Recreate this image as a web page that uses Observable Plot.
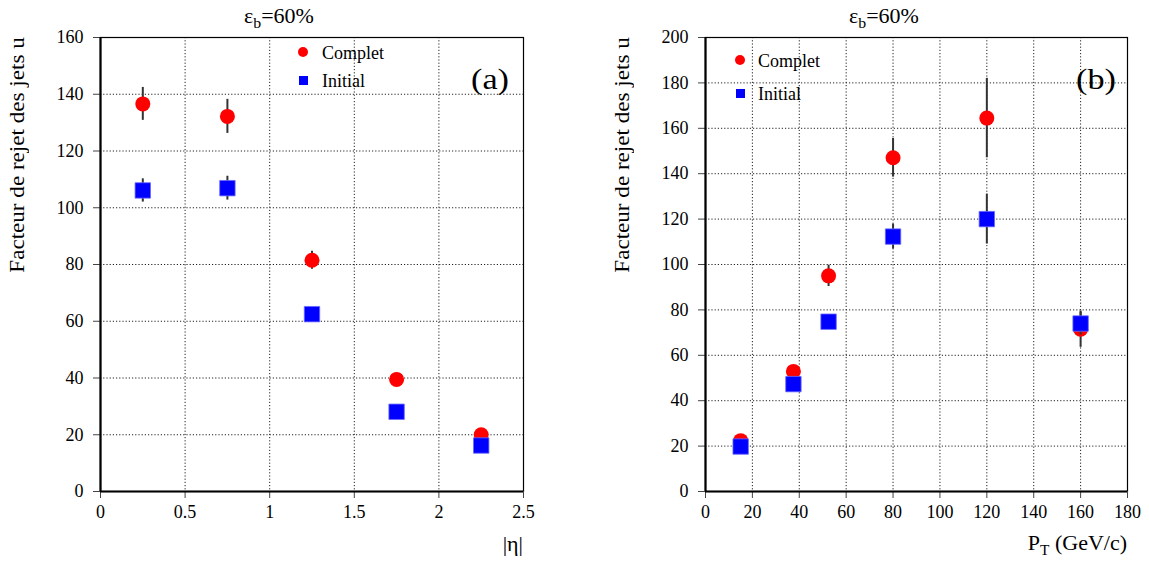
<!DOCTYPE html>
<html>
<head>
<meta charset="utf-8">
<script src="https://cdn.jsdelivr.net/npm/d3@7"></script>
<script src="https://cdn.jsdelivr.net/npm/@observablehq/plot@0.6"></script>
<style>
  html, body { margin: 0; padding: 0; background: #fff; }
  #wrap { position: relative; width: 1149px; height: 562px; overflow: hidden; font-family: "Liberation Serif", serif !important; color: #000; }
  #wrap svg, #wrap svg g { font-family: "Liberation Serif", serif !important; }
  #wrap svg text { font-family: "Liberation Serif", serif !important; font-size: 18px !important; }
  #wrap > svg { position: absolute; top: 0; margin: 0; }
  .ov { position: absolute; white-space: nowrap; line-height: 1; font-family: "Liberation Serif", serif !important; }
  .ylab { writing-mode: vertical-rl; transform: rotate(180deg) scaleY(1.1); font-size: 21px; line-height: 20px; }
  .title { font-size: 20px; transform: translateX(-50%) scaleX(1.1); }
  .title sub { font-size: 0.72em; vertical-align: -0.35em; line-height: 0; }
  .xlab { font-size: 22px; transform: translateX(-100%); }
  .xlab sub { font-size: 0.7em; vertical-align: -0.35em; line-height: 0; }
  .tag { font-size: 29px; transform: scaleX(1.18); transform-origin: 0 0; }
  .leg { font-size: 18px; }
  .mk { position: absolute; }
</style>
</head>
<body>
<div id="wrap"></div>
<script>
// ---- data ----
const etaX = [0.25, 0.75, 1.25, 1.75, 2.25];
const etaComplet = [136.6, 132.2, 81.5, 39.5, 20];
const etaCompletErr = [5.8, 6, 3.2, 1, 1];
const etaInitial = [106.1, 106.9, 62.5, 28.1, 16.2];
const etaInitialErr = [4.1, 4.2, 1, 1, 0.5];

const ptX = [15, 37.5, 52.5, 80, 120, 160];
const ptComplet = [22.4, 52.9, 95, 147, 164.5, 71.5];
const ptCompletErr = [1, 1.5, 4.7, 8.5, 17.5, 8];
const ptInitial = [19.8, 47.3, 74.8, 112.3, 120, 74];
const ptInitialErr = [1, 1.5, 3, 5.5, 11, 5];

const etaTicksX = [0, 0.5, 1, 1.5, 2, 2.5];
const etaTicksY = [0, 20, 40, 60, 80, 100, 120, 140, 160];
const ptTicksX = [0, 20, 40, 60, 80, 100, 120, 140, 160, 180];
const ptTicksY = [0, 20, 40, 60, 80, 100, 120, 140, 160, 180, 200];

const seriesNames = ["Complet", "Initial"];
const RED = "#ff0000", BLUE = "#0000ff";

function rows(xs, ys, es) {
  return xs.map((x, i) => ({x, y: ys[i], lo: ys[i] - es[i], hi: ys[i] + es[i]}));
}

function panel(opts) {
  const comp = rows(opts.x, opts.comp, opts.compErr);
  const init = rows(opts.x, opts.init, opts.initErr);
  const grid = {stroke: "#222", strokeOpacity: 1, strokeDasharray: "1.2,2", strokeWidth: 1};
  const fmt = d => String(d);
  return Plot.plot({
    width: opts.width, height: 562,
    marginLeft: opts.ml, marginRight: opts.mr, marginTop: 37, marginBottom: 71,
    x: {domain: opts.xDomain},
    y: {domain: opts.yDomain},
    style: {fontFamily: "Liberation Serif, serif", fontSize: "18px", color: "#000", background: "transparent"},
    marks: [
      Plot.gridX(opts.ticksX, grid),
      Plot.gridY(opts.ticksY, grid),
      Plot.frame({stroke: "#000", strokeWidth: 1.2}),
      Plot.axisX(opts.ticksX, {tickSize: 7, tickPadding: 7, label: null, stroke: "#444", tickFormat: fmt, fontSize: 18}),
      Plot.axisY(opts.ticksY, {tickSize: 7, tickPadding: 10, label: null, stroke: "#444", tickFormat: fmt, fontSize: 18}),
      Plot.ruleX([opts.xDomain[0]], {stroke: "#000", strokeWidth: 2.2}),
      Plot.ruleY([opts.yDomain[0]], {stroke: "#000", strokeWidth: 2.2}),
      Plot.ruleX(comp, {x: "x", y1: "lo", y2: "hi", stroke: "#333", strokeWidth: 2}),
      Plot.dot(comp, {x: "x", y: "y", r: 7.5, fill: RED, symbol: "circle"}),
      Plot.ruleX(init, {x: "x", y1: "lo", y2: "hi", stroke: "#333", strokeWidth: 2}),
      Plot.dot(init, {x: "x", y: "y", r: 8.7, fill: BLUE, stroke: "#6a6aff", strokeWidth: 0.8, symbol: "square"})
    ]
  });
}

const wrap = document.getElementById("wrap");

const left = panel({width: 574, ml: 100, mr: 51, xDomain: [0, 2.5], yDomain: [0, 160],
  x: etaX, comp: etaComplet, compErr: etaCompletErr, init: etaInitial, initErr: etaInitialErr,
  ticksX: etaTicksX, ticksY: etaTicksY});
left.style.left = "0px";
wrap.appendChild(left);

const right = panel({width: 575, ml: 131, mr: 22, xDomain: [0, 180], yDomain: [0, 200],
  x: ptX, comp: ptComplet, compErr: ptCompletErr, init: ptInitial, initErr: ptInitialErr,
  ticksX: ptTicksX, ticksY: ptTicksY});
right.style.left = "574px";
wrap.appendChild(right);

function ov(cls, html, left, top) {
  const d = document.createElement("div");
  d.className = "ov " + cls;
  d.innerHTML = html;
  d.style.left = left + "px";
  d.style.top = top + "px";
  wrap.appendChild(d);
  return d;
}
function marker(shape, cx, cy, size, color) {
  const d = document.createElement("div");
  d.className = "mk";
  d.style.left = (cx - size / 2) + "px";
  d.style.top = (cy - size / 2) + "px";
  d.style.width = size + "px";
  d.style.height = size + "px";
  d.style.background = color;
  if (shape === "circle") d.style.borderRadius = "50%";
  wrap.appendChild(d);
}

// titles
ov("title", "&epsilon;<sub>b</sub>=60%", 279, 6);
ov("title", "&epsilon;<sub>b</sub>=60%", 884, 6);
// y labels (text bottom-to-top, end of text at top)
ov("ylab", "Facteur de rejet des jets u", 7, 48);
ov("ylab", "Facteur de rejet des jets u", 612, 48);
// x labels
ov("xlab", "|&eta;|", 523, 533);
ov("xlab", "P<sub>T</sub> (GeV/c)", 1127, 532);
// panel tags
ov("tag", "(a)", 471, 65);
ov("tag", "(b)", 1076, 65);
// legends
marker("circle", 303, 52, 10, RED);
ov("leg", seriesNames[0], 322, 44);
marker("square", 303, 80, 9, BLUE);
ov("leg", seriesNames[1], 322, 72);
marker("circle", 740, 60, 10, RED);
ov("leg", seriesNames[0], 758, 52);
marker("square", 740, 93, 9, BLUE);
ov("leg", seriesNames[1], 758, 85);
</script>
</body>
</html>
